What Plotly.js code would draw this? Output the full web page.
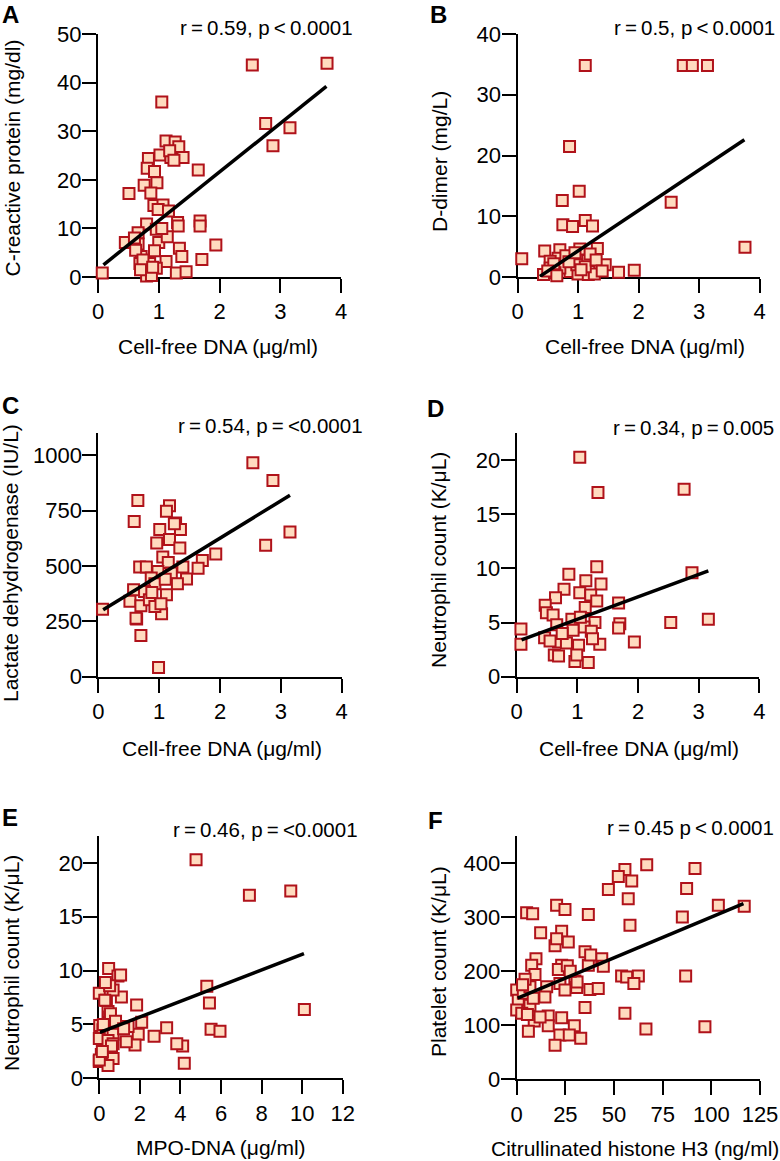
<!DOCTYPE html>
<html><head><meta charset="utf-8">
<script src="https://cdn.plot.ly/plotly-3.0.1.min.js"></script>
<style>html,body{margin:0;padding:0;background:#fff}#chart{width:780px;height:1161px}</style>
</head><body><div id="chart"></div>
<script>
// Panel A: CRP vs cell-free DNA
const A_x = [0.07,1.05,2.54,3.77,2.76,3.16,2.88,1.65,1.68,1.68,1.94,1.71,0.51,1.12,1.27,1.33,1.02,1.20,1.40,0.83,0.81,0.93,0.97,0.76,0.87,0.92,1.07,0.99,1.16,1.31,1.32,0.80,0.96,0.66,0.45,0.66,1.00,1.14,0.93,1.34,1.38,0.71,0.69,0.85,1.12,0.80,0.96,1.29,1.45,0.88,0.60,0.62,1.18,1.25,0.74,0.90,1.05,0.70];
const A_y = [0.8,36,43.6,44.0,31.6,30.7,27.0,22.0,11.5,10.5,6.6,3.6,17.2,28.0,27.8,26.8,25.1,24.6,24.6,24.4,22.4,21.7,19.4,18.9,17.3,14.7,14.8,13.9,13.6,11.2,10.5,10.9,9.8,9.1,7.1,6.8,7.1,8.3,5.4,5.9,4.2,4.2,2.8,2.8,3.2,0.2,1.8,0.8,1.1,0.3,8.0,5.5,26.0,24.0,3.5,2.0,10.0,1.5];
const A_fit_x = [0.09, 3.76];
const A_fit_y = [2.5, 39.2];

// Panel B: D-dimer vs cell-free DNA
const B_x = [0.07,1.12,2.74,2.89,3.14,0.86,1.02,0.74,2.54,3.76,0.75,0.91,1.12,1.24,0.45,0.70,1.03,1.32,0.67,0.92,1.16,0.54,1.36,1.45,0.87,0.70,1.00,1.17,1.27,0.43,0.62,1.67,1.93,0.54,0.98,1.12,0.80,0.60,1.05,1.20,0.50,0.85,1.30,1.40,0.95,0.65];
const B_y = [3.0,34.8,34.8,34.8,34.8,21.5,14.1,12.6,12.3,4.9,8.6,8.3,9.3,8.4,4.3,4.5,4.6,4.7,3.1,3.1,2.7,2.6,1.5,2.0,0.9,1.5,0.5,0.4,0.5,0.4,0.7,0.8,1.1,1.5,2.0,1.7,3.5,2.2,1.2,3.8,1.0,2.5,2.8,1.0,4.0,0.2];
const B_fit_x = [0.37, 3.75];
const B_fit_y = [0.1, 22.6];

// Panel C: LDH vs cell-free DNA
const C_x = [0.07,2.54,2.87,3.15,2.75,1.93,1.71,0.65,0.59,0.99,0.70,0.63,1.04,1.17,1.12,1.27,1.35,1.01,1.17,0.96,1.34,1.06,1.15,0.68,0.79,1.39,1.64,0.98,1.20,0.87,1.45,1.30,0.93,0.58,0.76,1.12,0.52,0.70,0.84,0.62,0.93,1.03,1.25,0.88,1.10];
const C_y = [305,966,886,653,593,554,525,795,700,41,186,260,284,772,747,694,664,664,619,604,581,540,516,495,495,495,490,475,468,445,441,419,419,392,385,370,340,320,347,264,317,329,690,380,440];
const C_fit_x = [0.08, 3.15];
const C_fit_y = [302, 819];

// Panel D: neutrophils vs cell-free DNA
const D_x = [1.04,1.34,2.76,2.89,3.16,2.54,1.94,0.07,0.07,1.32,0.86,1.14,1.39,0.78,1.04,1.22,0.64,1.32,0.47,1.68,1.13,0.49,0.60,0.91,1.29,1.70,1.68,0.66,1.11,0.93,1.23,0.46,0.69,0.82,1.02,1.37,0.62,0.69,0.96,1.18,0.99,1.25,0.75,1.05,0.55];
const D_y = [20.25,17.0,17.3,9.6,5.3,5.0,3.2,4.4,3.0,10.15,9.45,8.86,8.56,8.07,7.75,7.54,7.29,7.0,6.6,6.8,6.4,5.9,5.7,5.3,5.0,4.9,4.5,4.8,4.6,4.3,4.2,3.6,3.2,3.1,2.9,3.0,2.0,1.9,1.4,1.3,2.0,3.5,4.0,5.5,3.3];
const D_fit_x = [0.08, 3.16];
const D_fit_y = [3.39, 9.78];

// Panel E: neutrophils vs MPO-DNA
const E_x = [4.77,7.40,9.44,10.11,5.30,5.43,5.51,5.95,4.19,4.11,3.82,3.32,2.70,1.84,2.09,1.92,1.76,0.46,0.92,1.05,0.0,1.09,0.35,0.68,0.51,0.43,0.51,0.02,0.18,1.42,0.68,0.0,0.43,1.33,0.68,0.10,0.68,0.0,0.43,0.0,0.27,0.30,0.55,0.80,0.20,1.20,0.60,0.15];
const E_y = [20.3,17.0,17.4,6.4,8.55,7.0,4.56,4.38,1.39,3.0,3.2,4.7,3.9,6.8,5.2,4.1,3.1,10.2,9.5,9.6,7.9,7.55,7.25,8.2,8.6,6.2,5.7,4.9,4.5,4.8,4.1,3.7,3.5,3.4,3.2,2.2,1.85,1.55,1.2,1.7,7.25,8.9,6.0,5.3,5.0,4.6,3.0,2.5];
const E_fit_x = [0.03, 10.09];
const E_fit_y = [4.26, 11.57];

// Panel F: platelets vs citrullinated histone H3
const F_x = [66.8,91.6,55.6,52.2,59.1,47.1,87.3,57.3,103.6,116.9,85.1,58.2,36.8,5.1,8.2,20.5,24.8,12.3,23.1,26.5,19.7,35.1,43.7,44.5,36.8,23.1,9.9,7.7,9.4,21.4,53.9,56.5,62.5,60.2,86.8,29.9,30.8,37.6,41.9,22.2,24.8,15.4,14.5,0,0.8,3.4,6.8,4.3,6.8,0,35.1,2.6,16.2,23.1,55.6,9,16.2,29.6,6.0,22.2,27,32.9,19.7,66.4,96.7,26.0,31.0,20.5,8.5,5.5,12.0,3.0,27.5,38.0];
const F_y = [397,390,388,375,367,351,353,334,322,320,300,285,305,308,306,322,314,271,274,254,247,236,223,209,211,211,223,211,194,203,191,189,191,177,191,182,170,166,168,177,165,171,152,165,146,159,171,185,137,128,133,122,117,114,122,108,99,99,89,82,82,76,63,93,97,210,180,260,150,120,115,175,200,230];
const F_fit_x = [0.5, 116.5];
const F_fit_y = [150, 325];

const TS = '\u2009'; // thin space
const panelLetters = ['A','B','C','D','E','F'];
const xTitles = ['Cell-free DNA (μg/ml)','Cell-free DNA (μg/ml)','Cell-free DNA (μg/ml)','Cell-free DNA (μg/ml)','MPO-DNA (μg/ml)','Citrullinated histone H3 (ng/ml)'];
const yTitles = ['C-reactive protein (mg/dl)','D-dimer (mg/L)','Lactate dehydrogenase (IU/L)','Neutrophil count (K/μL)','Neutrophil count (K/μL)','Platelet count (K/μL)'];
const statLabels = [
  'r'+TS+'='+TS+'0.59, p'+TS+'<'+TS+'0.0001',
  'r'+TS+'='+TS+'0.5, p'+TS+'<'+TS+'0.0001',
  'r'+TS+'='+TS+'0.54, p'+TS+'='+TS+'<0.0001',
  'r'+TS+'='+TS+'0.34, p'+TS+'='+TS+'0.005',
  'r'+TS+'='+TS+'0.46, p'+TS+'='+TS+'<0.0001',
  'r'+TS+'='+TS+'0.45 p'+TS+'<'+TS+'0.0001'
];
const xTicks = [[0,1,2,3,4],[0,1,2,3,4],[0,1,2,3,4],[0,1,2,3,4],[0,2,4,6,8,10,12],[0,25,50,75,100,125]];
const yTicks = [[0,10,20,30,40,50],[0,10,20,30,40],[0,250,500,750,1000],[0,5,10,15,20],[0,5,10,15,20],[0,100,200,300,400]];

const series = [
  [A_x,A_y,A_fit_x,A_fit_y],[B_x,B_y,B_fit_x,B_fit_y],[C_x,C_y,C_fit_x,C_fit_y],
  [D_x,D_y,D_fit_x,D_fit_y],[E_x,E_y,E_fit_x,E_fit_y],[F_x,F_y,F_fit_x,F_fit_y]
];

// ---- layout geometry (pixels) ----
const W = 780, H = 1161;
const FONT = '"Liberation Sans", Arial, Helvetica, sans-serif';
const geom = [
  {l:98, r:341, t:34, b:277, xr:[0,4], yr:[0,50]},
  {l:517.5, r:759.5, t:34, b:277, xr:[0,4], yr:[0,40]},
  {l:98.3, r:341.7, t:433, b:676.7, xr:[0,4], yr:[0,1100]},
  {l:516.7, r:759.3, t:433, b:676.7, xr:[0,4], yr:[0,22.5]},
  {l:99.3, r:342.7, t:836, b:1078.3, xr:[0,12], yr:[0,22.5]},
  {l:516.7, r:760, t:836, b:1079.3, xr:[0,125], yr:[0,450]}
];
const letterTop = [[1,0],[429,0],[1,390.5],[426,393.5],[1,802.5],[427,805.5]];
const statPos = [[354.5,28],[777,28],[364.5,425],[775.5,427.5],[359.5,829],[775.5,827.5]];
const xTitlePos = [[217.5,346.5],[645,346.5],[222,748.5],[639,748.5],[221,1147.5],[635,1148]];
const yTitlePos = [[11.5,158],[439,162],[11,563],[438,560],[11,963],[438,962]];

const px = x => x / W;
const py = y => 1 - y / H;

const data = [];
const layout = {
  width: W, height: H,
  margin: {l:0, r:0, t:0, b:0},
  paper_bgcolor: '#fff', plot_bgcolor: 'rgba(0,0,0,0)',
  showlegend: false,
  font: {family: FONT, size: 20, color: '#000'},
  annotations: []
};

series.forEach((s, i) => {
  const n = i + 1;
  const xa = 'x' + (n === 1 ? '' : n), ya = 'y' + (n === 1 ? '' : n);
  const g = geom[i];
  data.push({
    type: 'scatter', mode: 'markers', x: s[0], y: s[1], xaxis: xa, yaxis: ya,
    cliponaxis: false, hoverinfo: 'skip',
    marker: {symbol: 'square', size: 11, color: '#FFDBBF', line: {color: '#B0121A', width: 2}}
  });
  data.push({
    type: 'scatter', mode: 'lines', x: s[2], y: s[3], xaxis: xa, yaxis: ya,
    cliponaxis: false, hoverinfo: 'skip',
    line: {color: '#000', width: 3.5}
  });
  const common = {
    showline: true, linewidth: 2, linecolor: '#000', ticks: 'outside', ticklen: 14,
    tickwidth: 2, tickcolor: '#000', showgrid: false, zeroline: false,
    tickfont: {family: FONT, size: 22, color: '#000'}, layer: 'below traces', fixedrange: true
  };
  layout['xaxis' + (n === 1 ? '' : n)] = Object.assign({}, common, {
    domain: [px(g.l), px(g.r)], range: g.xr, anchor: ya, tickvals: xTicks[i], ticktext: xTicks[i].map(String),
    ticklabelstandoff: 0
  });
  layout['yaxis' + (n === 1 ? '' : n)] = Object.assign({}, common, {
    domain: [py(g.b), py(g.t)], range: g.yr, anchor: xa, tickvals: yTicks[i], ticktext: yTicks[i].map(String),
    ticklabelstandoff: -4
  });
  layout.annotations.push({
    xref: 'paper', yref: 'paper', x: px(letterTop[i][0]), y: py(letterTop[i][1]),
    xanchor: 'left', yanchor: 'top', showarrow: false, borderpad: 0, text: '<b>' + panelLetters[i] + '</b>',
    font: {family: FONT, size: 24, color: '#000'}
  });
  layout.annotations.push({
    xref: 'paper', yref: 'paper', x: px(statPos[i][0]), y: py(statPos[i][1]),
    xanchor: 'right', yanchor: 'middle', showarrow: false, text: statLabels[i],
    font: {family: FONT, size: 20.5, color: '#000'}
  });
  layout.annotations.push({
    xref: 'paper', yref: 'paper', x: px(xTitlePos[i][0]), y: py(xTitlePos[i][1]),
    xanchor: 'center', yanchor: 'middle', showarrow: false, text: xTitles[i],
    font: {family: FONT, size: 21, color: '#000'}
  });
  layout.annotations.push({
    xref: 'paper', yref: 'paper', x: px(yTitlePos[i][0]), y: py(yTitlePos[i][1]),
    xanchor: 'center', yanchor: 'middle', showarrow: false, text: yTitles[i], textangle: -90,
    font: {family: FONT, size: 21, color: '#000'}
  });
});

Plotly.newPlot('chart', data, layout, {staticPlot: true, displayModeBar: false});
</script></body></html>
